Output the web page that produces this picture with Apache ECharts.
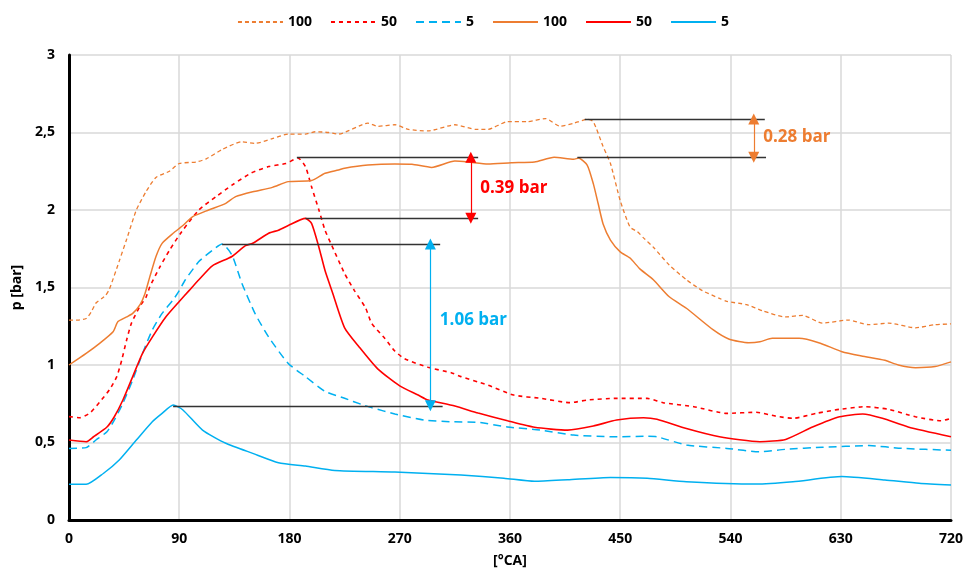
<!DOCTYPE html>
<html>
<head>
<meta charset="utf-8">
<script src="https://cdn.jsdelivr.net/npm/echarts@6/dist/echarts.min.js"></script>
<style>
  html, body { margin: 0; padding: 0; background: #fff; }
  #main { width: 966px; height: 573px; }
</style>
</head>
<body>
<div id="main"></div>
<script>
// crank angle [°CA] and pressure [bar]
const angD100 = [0, 8, 14, 18, 22, 27, 30, 33, 41, 47, 55, 63, 71, 82, 90, 104, 112, 125, 141, 152, 166, 179, 193, 201, 212, 220, 244, 252, 266, 277, 293, 315, 332, 342, 358, 374, 389, 401, 412, 423, 428, 436, 442, 450, 458, 464, 469, 477, 490, 504, 517, 531, 537, 553, 566, 585, 599, 615, 636, 653, 669, 691, 707, 720];
const pD100 = [1.29, 1.29, 1.30, 1.34, 1.40, 1.43, 1.45, 1.49, 1.67, 1.81, 2.0, 2.12, 2.21, 2.25, 2.30, 2.31, 2.33, 2.39, 2.44, 2.43, 2.46, 2.49, 2.49, 2.505, 2.50, 2.49, 2.56, 2.54, 2.55, 2.52, 2.51, 2.55, 2.52, 2.52, 2.57, 2.57, 2.59, 2.54, 2.56, 2.585, 2.57, 2.41, 2.30, 2.06, 1.89, 1.86, 1.82, 1.76, 1.645, 1.55, 1.48, 1.43, 1.41, 1.39, 1.35, 1.31, 1.32, 1.27, 1.29, 1.26, 1.27, 1.24, 1.26, 1.265];

const angD50 = [0, 9, 17, 25, 33, 39, 43, 47, 51, 58, 63, 66, 74, 82, 92, 106, 120, 133, 149, 163, 177, 187, 193, 198, 204, 209, 214, 225, 233, 242, 247, 258, 266, 274, 293, 312, 320, 334, 342, 363, 385, 409, 423, 447, 472, 485, 510, 537, 561, 577, 591, 610, 629, 650, 669, 691, 712, 720];
const pD50 = [0.667, 0.66, 0.69, 0.76, 0.84, 0.925, 1.03, 1.16, 1.27, 1.38, 1.44, 1.505, 1.63, 1.74, 1.86, 2.0, 2.086, 2.16, 2.24, 2.28, 2.30, 2.335, 2.28, 2.15, 2.0, 1.87, 1.78, 1.59, 1.48, 1.37, 1.27, 1.17, 1.09, 1.04, 0.985, 0.95, 0.925, 0.89, 0.87, 0.806, 0.785, 0.757, 0.774, 0.785, 0.785, 0.757, 0.731, 0.688, 0.695, 0.67, 0.656, 0.688, 0.714, 0.731, 0.714, 0.666, 0.64, 0.656];

const angD5 = [0, 14, 22, 31, 37, 44, 52, 60, 68, 76, 85, 90, 95, 106, 117, 125, 133, 141, 152, 163, 179, 193, 209, 225, 239, 247, 266, 290, 312, 334, 358, 385, 412, 444, 472, 480, 504, 537, 564, 585, 615, 653, 680, 720];
const pD5 = [0.462, 0.467, 0.516, 0.57, 0.645, 0.753, 0.903, 1.075, 1.226, 1.333, 1.42, 1.48, 1.55, 1.667, 1.74, 1.78, 1.71, 1.53, 1.33, 1.18, 1.01, 0.925, 0.83, 0.785, 0.745, 0.725, 0.684, 0.645, 0.634, 0.63, 0.60, 0.58, 0.548, 0.537, 0.54, 0.537, 0.484, 0.462, 0.44, 0.456, 0.469, 0.48, 0.462, 0.45];

const angS100 = [0, 14, 25, 36, 40, 47, 52, 58, 62, 66, 71, 76, 85, 93, 101, 114, 128, 136, 150, 166, 179, 198, 209, 220, 225, 244, 266, 280, 296, 315, 326, 342, 361, 380, 396, 412, 416, 423, 428, 432, 436, 442, 450, 458, 466, 477, 490, 504, 526, 539, 555, 564, 574, 596, 612, 631, 647, 666, 677, 691, 707, 720];
const pS100 = [1.0, 1.075, 1.14, 1.215, 1.28, 1.31, 1.333, 1.39, 1.46, 1.57, 1.70, 1.785, 1.85, 1.90, 1.957, 2.0, 2.043, 2.086, 2.118, 2.146, 2.183, 2.19, 2.237, 2.258, 2.27, 2.29, 2.297, 2.295, 2.275, 2.316, 2.31, 2.297, 2.305, 2.31, 2.34, 2.327, 2.335, 2.29, 2.17, 2.04, 1.91, 1.806, 1.73, 1.69, 1.62, 1.55, 1.44, 1.366, 1.226, 1.166, 1.144, 1.15, 1.172, 1.172, 1.144, 1.086, 1.058, 1.03, 1.0, 0.983, 0.99, 1.02];

const angS50 = [0, 14, 20, 31, 37, 44, 52, 60, 68, 79, 90, 98, 106, 117, 133, 144, 150, 163, 171, 179, 193, 198, 204, 209, 215, 225, 237, 252, 270, 285, 293, 301, 315, 334, 358, 380, 407, 428, 447, 469, 480, 504, 531, 564, 585, 607, 629, 648, 664, 685, 720];
const pS50 = [0.516, 0.505, 0.537, 0.60, 0.666, 0.774, 0.925, 1.075, 1.18, 1.31, 1.41, 1.48, 1.55, 1.64, 1.70, 1.77, 1.785, 1.85, 1.87, 1.90, 1.946, 1.914, 1.76, 1.61, 1.47, 1.24, 1.115, 0.975, 0.865, 0.806, 0.774, 0.76, 0.735, 0.69, 0.64, 0.598, 0.58, 0.606, 0.645, 0.66, 0.65, 0.59, 0.537, 0.505, 0.52, 0.60, 0.666, 0.684, 0.656, 0.60, 0.537];

const angS5 = [0, 14, 28, 41, 55, 68, 76, 85, 93, 109, 128, 150, 171, 193, 217, 266, 320, 355, 380, 407, 442, 472, 504, 561, 591, 631, 666, 694, 720];
const pS5 = [0.23, 0.23, 0.30, 0.387, 0.516, 0.634, 0.688, 0.742, 0.71, 0.58, 0.495, 0.43, 0.37, 0.348, 0.32, 0.31, 0.29, 0.27, 0.25, 0.26, 0.275, 0.27, 0.247, 0.232, 0.247, 0.28, 0.258, 0.237, 0.226];

const legendLabels = { d100: '100', d50: '50', d5: '5', s100: '100', s50: '50', s5: '5' };

// horizontal reference lines: [from angle, to angle, pressure]
const refLines = [
  [421, 568, 2.587],
  [415, 569, 2.34],
  [186, 334, 2.34],
  [193, 334, 1.946],
  [125, 303, 1.78],
  [85, 305, 0.737]
];
// difference arrows
const arrowAng = [559, 328, 295];
const arrowTop = [2.587, 2.34, 1.78];
const arrowBot = [2.34, 1.946, 0.737];
const arrowText = ['0.28 bar', '0.39 bar', '1.06 bar'];
const arrowTextP = [2.47, 2.14, 1.29];

const ORANGE = '#ED7D31', RED = '#FF0000', BLUE = '#00B0F0';
const arrowColors = [ORANGE, RED, BLUE];
const FONT = 'Open Sans';

function zip(a, b) { return a.map((v, i) => [v, b[i]]); }

function lineSeries(name, ang, p, color, dash, width) {
  return {
    name: name,
    type: 'line',
    data: zip(ang, p),
    symbol: 'none',
    showSymbol: false,
    smooth: 0.2,
    lineStyle: { color: color, width: width, type: dash },
    itemStyle: { color: color },
    z: 3
  };
}

const chart = echarts.init(document.getElementById('main'));

const markLines = refLines.map(r => [
  { coord: [r[0], r[2]], lineStyle: { color: '#333', width: 1.3, type: 'solid' } },
  { coord: [r[1], r[2]] }
]);
arrowAng.forEach((a, i) => {
  markLines.push([
    { coord: [a, arrowTop[i]], symbol: 'triangle', symbolSize: 11,
      itemStyle: { color: arrowColors[i] },
      lineStyle: { color: arrowColors[i], width: 1.2, type: 'solid' } },
    { coord: [a, arrowBot[i]], symbol: 'triangle', symbolSize: 11,
      itemStyle: { color: arrowColors[i] } }
  ]);
});

const option = {
  animation: false,
  textStyle: { fontFamily: FONT },
  legend: {
    top: 10,
    left: 'center',
    data: ['d100', 'd50', 'd5', 's100', 's50', 's5'],
    itemWidth: 45,
    itemHeight: 10,
    itemGap: 18,
    itemStyle: { opacity: 0 },
    formatter: n => legendLabels[n],
    textStyle: { fontFamily: FONT, fontWeight: 'bold', fontSize: 14, color: '#000' }
  },
  grid: { left: 69, right: 10, top: 55, bottom: 53 },
  xAxis: {
    type: 'value',
    min: 0, max: 720, interval: 90,
    name: '[°CA]',
    nameLocation: 'middle',
    nameGap: 34,
    nameTextStyle: { fontFamily: FONT, fontWeight: 'bold', fontSize: 14, color: '#000' },
    axisLine: { lineStyle: { color: '#000', width: 3 } },
    axisTick: { show: false },
    axisLabel: { fontFamily: FONT, fontWeight: 'bold', fontSize: 14, color: '#000', margin: 12 },
    splitLine: { show: true, lineStyle: { color: '#d9d9d9', width: 1.5 } }
  },
  yAxis: {
    type: 'value',
    min: 0, max: 3, interval: 0.5,
    name: 'p [bar]',
    nameLocation: 'middle',
    nameGap: 42,
    nameRotate: 90,
    nameTextStyle: { fontFamily: FONT, fontWeight: 'bold', fontSize: 14, color: '#000' },
    axisLine: { show: true, lineStyle: { color: '#000', width: 3 } },
    axisTick: { show: false },
    axisLabel: {
      fontFamily: FONT, fontWeight: 'bold', fontSize: 14, color: '#000', margin: 14,
      formatter: v => String(v).replace('.', ',')
    },
    splitLine: { show: true, lineStyle: { color: '#d9d9d9', width: 1.5 } }
  },
  series: [
    lineSeries('d100', angD100, pD100, ORANGE, [4, 3], 1.3),
    lineSeries('d50', angD50, pD50, RED, [4, 4], 1.6),
    lineSeries('d5', angD5, pD5, BLUE, [8, 5], 1.5),
    lineSeries('s100', angS100, pS100, ORANGE, 'solid', 1.5),
    lineSeries('s50', angS50, pS50, RED, 'solid', 1.6),
    lineSeries('s5', angS5, pS5, BLUE, 'solid', 1.5),
    {
      name: 'notes',
      type: 'line',
      data: [],
      z: 5,
      markLine: {
        silent: true,
        symbol: ['none', 'none'],
        label: { show: false },
        data: markLines
      },
      markPoint: {
        silent: true,
        symbol: 'circle',
        symbolSize: 1,
        itemStyle: { color: 'rgba(0,0,0,0)' },
        data: arrowText.map((t, i) => ({
          coord: [arrowAng[i], arrowTextP[i]],
          label: {
            show: true, position: 'right', distance: 9,
            formatter: t, color: arrowColors[i],
            fontFamily: FONT, fontWeight: 'bold', fontSize: 17
          }
        }))
      }
    }
  ]
};

chart.setOption(option);
</script>
</body>
</html>
